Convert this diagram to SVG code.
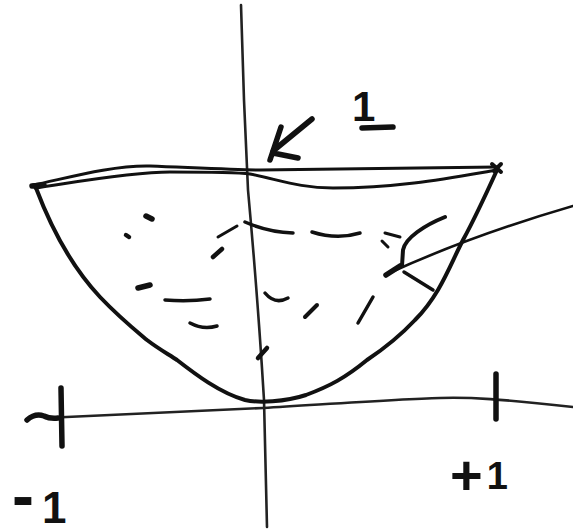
<svg xmlns="http://www.w3.org/2000/svg" width="573" height="531" viewBox="0 0 573 531">
<style>
.s{fill:none;stroke:#111;stroke-linecap:round;stroke-linejoin:round}
.ax{stroke-width:2.6;stroke:#222}
.b{stroke-width:4}
.r{stroke-width:3}
.m{stroke-width:3.5}
.t{stroke-width:5.5}
.lbl{font-family:"Liberation Sans",Arial,sans-serif;font-weight:bold;fill:#111}
</style>
<rect width="573" height="531" fill="#fff"/>
<g id="axes">
<path class="s ax" d="M241,5 L244,100 L248,190 Q258,300 264,400 L267,527"/>
<path class="s ax" d="M45,418 C150,413 220,410 263,408 C330,404 400,399 440,398 C470,397 500,399 573,407"/>
<path class="s t" d="M27,420 Q35,413 44,416 Q50,419 58,418"/>
<path class="s t" d="M61,388 L62,446"/>
<path class="s t" d="M496,374 L496,419"/>
</g>
<g id="bowl">
<path class="s b" d="M36,188 C50,225 70,265 100,297 C120,318 135,330 147,340 C160,350 170,355 177,360 C195,374 220,393 245,400 C258,403 285,402 306,395 C330,386 345,378 367,360 C385,348 400,336 415,320 C440,295 450,265 463,240 C475,218 487,192 497,170"/>
<path class="s r" d="M33,185 C60,180 110,165 150,166 C200,168 240,170 260,170 L497,167"/>
<path class="s r" d="M35,188 C70,183 130,172 170,172 C210,172 235,172 250,174 C280,180 300,188 333,188 C400,188 450,178 497,170"/>
<path class="s t" d="M32,186 L44,185"/>
<path class="s" stroke-width="4" d="M492,164 L501,172 M501,164 L494,171"/>
</g>
<g id="marks">
<path class="s t" d="M146,216 L152,219"/>
<path class="s" stroke-width="4.5" d="M126,235 L129,237"/>
<path class="s r" d="M218,237 L237,226"/>
<path class="s" stroke-width="4.5" d="M213,257 L222,249"/>
<path class="s m" d="M245,222 Q268,232 293,233"/>
<path class="s m" d="M312,232 Q337,240 360,233"/>
<path class="s r" d="M385,233 L400,237"/>
<path class="s r" d="M382,241 L388,247"/>
<path class="s t" d="M138,288 L150,285"/>
<path class="s m" d="M165,300 Q188,302 210,299"/>
<path class="s m" d="M190,323 Q203,330 217,326"/>
<path class="s m" d="M265,293 Q275,305 288,298"/>
<path class="s" stroke-width="4" d="M305,317 L317,305"/>
<path class="s m" d="M358,323 L373,297"/>
<path class="s" stroke-width="4.5" d="M258,358 L267,348"/>
</g>
<g id="connectors">
<path class="s" stroke-width="2.6" stroke="#222" d="M573,206 Q470,236 387,274"/>
<path class="s t" d="M386,275 L400,266"/>
<path class="s b" d="M445,217 C425,225 405,238 403,250 L402,266"/>
<path class="s m" d="M404,272 L433,290"/>
<path class="s t" d="M312,119 L273,151 M281,127 L270,160 M273,153 L298,158"/>
</g>
<g id="labels">
<text class="lbl" x="352" y="121" font-size="42">1</text>
<path class="s t" d="M362,128 L393,127"/>
<text class="lbl" x="12" y="523" font-size="44"><tspan font-size="66" dy="-5">-</tspan><tspan dx="8" dy="5">1</tspan></text>
<text class="lbl" x="450" y="494" font-size="38"><tspan font-size="56">+</tspan><tspan dx="4" dy="-5">1</tspan></text>
</g>
</svg>
